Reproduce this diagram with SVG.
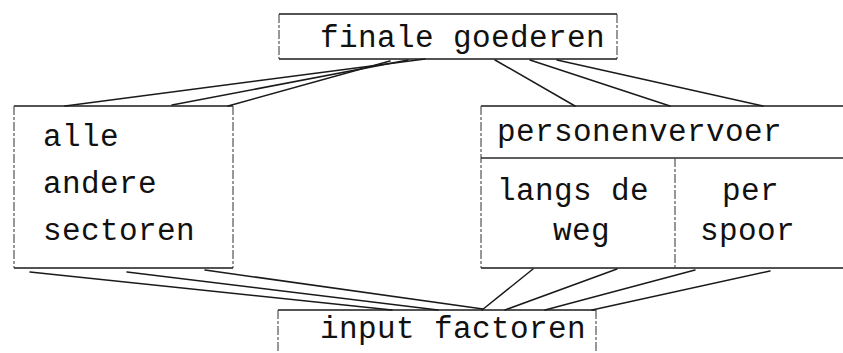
<svg xmlns="http://www.w3.org/2000/svg" width="843" height="353" viewBox="0 0 843 353">
  <style>
    .box { fill: none; stroke: #1a1a1a; stroke-width: 1.7; }
    .side { fill: none; stroke: #444; stroke-width: 1.1; stroke-dasharray: 9 2 3 2; }
    .div { fill: none; stroke: #2a2a2a; stroke-width: 1.3; }
    .link { fill: none; stroke: #1a1a1a; stroke-width: 1.5; stroke-linecap: round; }
    .t { font-family: "Liberation Mono", "DejaVu Sans Mono", monospace; font-size: 31px; letter-spacing: 0.4px; fill: #111; }
  </style>
  <rect width="843" height="353" fill="#ffffff"/>

  <g id="connectors">
    <!-- finale goederen to alle andere sectoren -->
    <line class="link" x1="425" y1="59" x2="65" y2="106"/>
    <line class="link" x1="408" y1="60" x2="172" y2="105"/>
    <line class="link" x1="390" y1="61" x2="228" y2="106"/>
    <!-- finale goederen to personenvervoer -->
    <line class="link" x1="495" y1="60" x2="575" y2="106"/>
    <line class="link" x1="530" y1="60" x2="670" y2="106"/>
    <line class="link" x1="557" y1="60" x2="763" y2="106"/>
    <!-- alle andere sectoren to input factoren -->
    <line class="link" x1="30" y1="272" x2="392" y2="310"/>
    <line class="link" x1="127" y1="272" x2="438" y2="310"/>
    <line class="link" x1="205" y1="270" x2="483" y2="309"/>
    <!-- personenvervoer to input factoren -->
    <line class="link" x1="533" y1="269" x2="482" y2="310"/>
    <line class="link" x1="617" y1="269" x2="505" y2="310"/>
    <line class="link" x1="695" y1="270" x2="545" y2="310"/>
    <line class="link" x1="770" y1="271" x2="592" y2="310"/>
  </g>

  <g id="finale-goederen">
    <line class="box" x1="279" y1="14" x2="617" y2="14"/>
    <line class="box" x1="279" y1="59" x2="617" y2="59"/>
    <line class="side" x1="279" y1="14" x2="279" y2="59"/>
    <line class="side" x1="617" y1="14" x2="617" y2="59"/>
    <text class="t" x="320" y="47">finale goederen</text>
  </g>

  <g id="alle-andere-sectoren">
    <line class="box" x1="14" y1="106" x2="233" y2="106"/>
    <line class="box" x1="14" y1="268" x2="233" y2="268"/>
    <line class="side" x1="14" y1="106" x2="14" y2="268"/>
    <line class="side" x1="233" y1="106" x2="233" y2="268"/>
    <text class="t" x="43" y="146">alle</text>
    <text class="t" x="43" y="193">andere</text>
    <text class="t" x="43" y="240">sectoren</text>
  </g>

  <g id="personenvervoer">
    <line class="box" x1="481" y1="106" x2="843" y2="106"/>
    <line class="box" x1="481" y1="268" x2="843" y2="268"/>
    <line class="side" x1="481" y1="106" x2="481" y2="268"/>
    <line class="div" x1="481" y1="158" x2="843" y2="158"/>
    <line class="side" x1="675" y1="158" x2="675" y2="268"/>
    <text class="t" x="497" y="141">personenvervoer</text>
    <text class="t" x="497" y="200">langs de</text>
    <text class="t" x="553" y="240">weg</text>
    <text class="t" x="722" y="200">per</text>
    <text class="t" x="700" y="240">spoor</text>
  </g>

  <g id="input-factoren">
    <line class="box" x1="278" y1="310" x2="596" y2="310"/>
    <line class="side" x1="278" y1="310" x2="278" y2="353"/>
    <line class="side" x1="596" y1="310" x2="596" y2="353"/>
    <text class="t" x="320" y="338">input factoren</text>
  </g>
</svg>
